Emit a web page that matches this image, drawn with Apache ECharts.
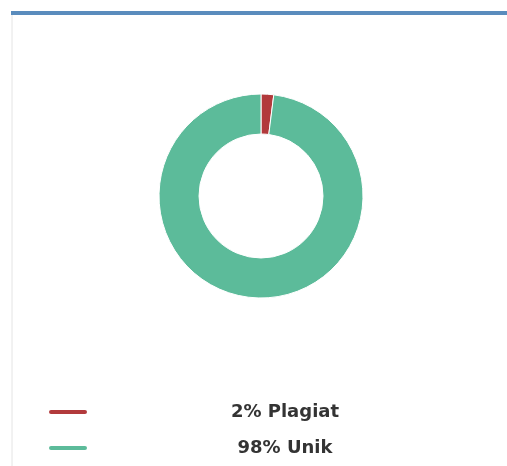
<!DOCTYPE html>
<html>
<head>
<meta charset="utf-8">
<script src="https://cdn.jsdelivr.net/npm/echarts@6/dist/echarts.min.js"></script>
<style>
  html, body { margin: 0; padding: 0; background: #fff; }
  #chart { width: 507px; height: 466px; }
</style>
</head>
<body>
<div id="chart"></div>
<script>
const labels = ['2% Plagiat', '98% Unik'];
const values = [2, 98];
const colors = ['#b23a3c', '#5cbb9a'];

const chart = echarts.init(document.getElementById('chart'));

chart.setOption({
  animation: false,
  color: colors,
  graphic: [
    {
      type: 'rect',
      shape: { x: 12, y: 14, width: 520, height: 480 },
      style: { fill: 'none', stroke: '#e4e4e4', lineWidth: 1 },
      z: 0
    },
    {
      type: 'rect',
      shape: { x: 11, y: 11, width: 500, height: 4 },
      style: { fill: '#5a8cbd' },
      z: 1
    }
  ],
  legend: {
    orient: 'vertical',
    left: 42,
    top: 398,
    itemWidth: 40,
    itemHeight: 7,
    itemGap: 18,
    icon: 'path://M3,0 L37,0 A3,3 0 0 1 37,6 L3,6 A3,3 0 0 1 3,0 Z',
    data: labels,
    formatter: name => '{t|' + name + '}',
    textStyle: {
      rich: {
        t: {
          width: 384,
          align: 'center',
          fontFamily: 'DejaVu Sans',
          fontWeight: 'bold',
          fontSize: 18,
          color: '#333'
        }
      }
    }
  },
  series: [{
    type: 'pie',
    center: [261, 196],
    radius: [62, 102],
    startAngle: 90,
    clockwise: true,
    label: { show: false },
    labelLine: { show: false },
    itemStyle: { borderColor: '#fff', borderWidth: 1 },
    data: labels.map((name, i) => ({ name, value: values[i] }))
  }]
});
</script>
</body>
</html>
